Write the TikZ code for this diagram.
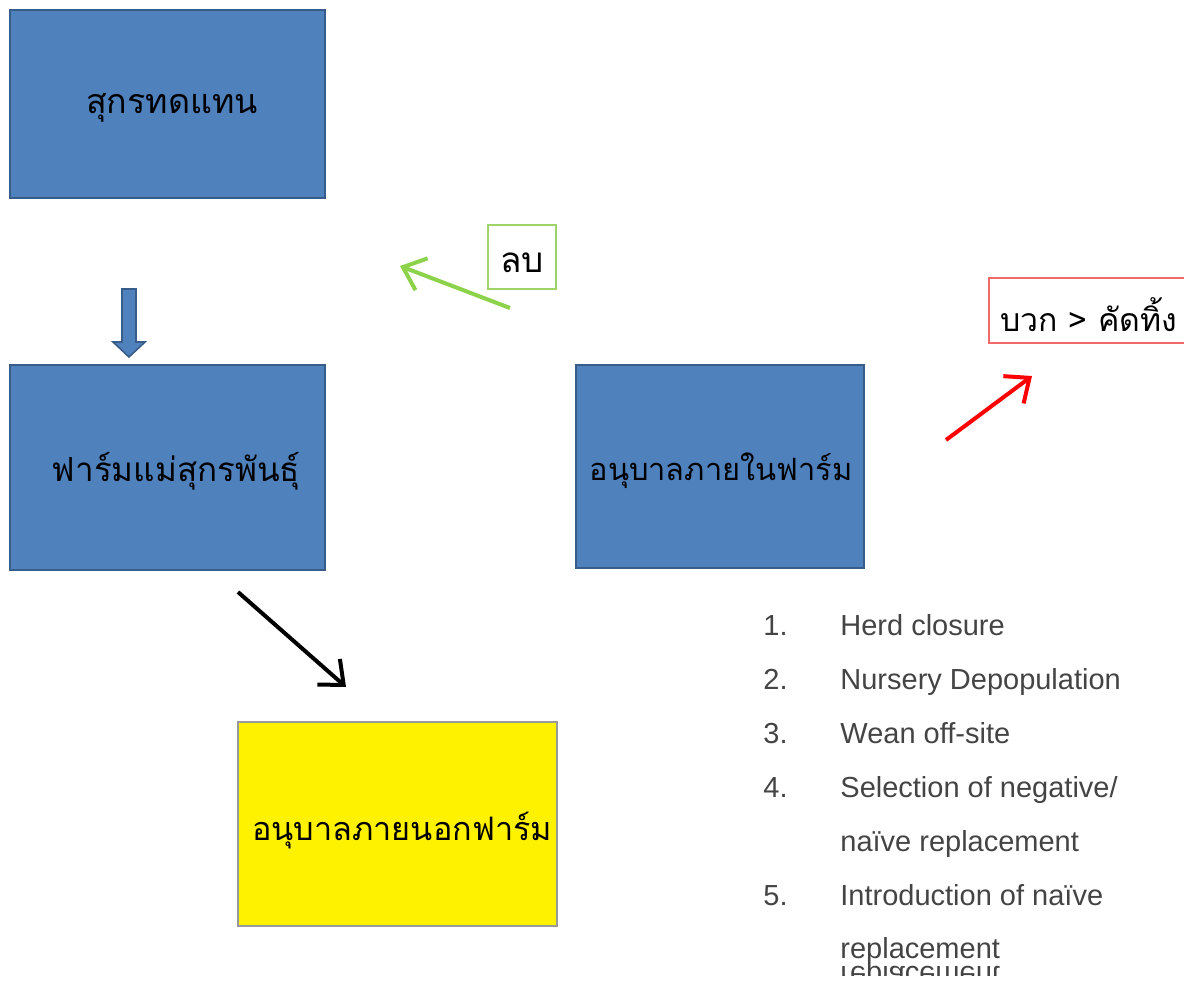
\documentclass[tikz,border=0pt]{standalone}
\usepackage{fontspec}
\usetikzlibrary{arrows.meta}
\newfontfamily\thaifont[Script=Thai]{Loma}
\newfontfamily\listfont{Liberation Sans}
\definecolor{boxblue}{HTML}{4F81BD}
\definecolor{boxedge}{HTML}{385D8A}
\definecolor{minusgreen}{HTML}{9ED36A}
\definecolor{arrgreen}{HTML}{8CD24A}
\definecolor{plusred}{HTML}{F06A6A}
\definecolor{listgray}{HTML}{444444}
\begin{document}
\begin{tikzpicture}[x=0.5pt,y=-0.5pt,
  bluebox/.style={draw=boxedge,fill=boxblue,line width=1pt,inner sep=0pt,outer sep=0pt},
  yellowbox/.style={draw=gray!80,fill=yellow,line width=0.8pt,inner sep=0pt,outer sep=0pt},
  labelbox/.style={fill=white,line width=1pt,inner sep=0pt,outer sep=0pt},
  thaitext/.style={font=\thaifont,text=black,inner sep=0pt},
  flowarrow/.style={line width=2pt,-{Straight Barb[length=10pt,width=17pt,line width=2pt]}},
  listnum/.style={font=\listfont\fontsize{14.5}{16}\selectfont,text=listgray,anchor=base west,inner sep=0pt},
  listitem/.style={font=\listfont\fontsize{14.5}{16}\selectfont,text=listgray,anchor=base west,inner sep=0pt}
]
\useasboundingbox (0,0) rectangle (1184,982);

% boxes
\node[bluebox,minimum width=157.5pt,minimum height=94pt] (repl) at (167.5,104) {};
\node[thaitext] (repltext) at (172,108) {\fontsize{17}{20}\selectfont สุกรทดแทน};
\node[bluebox,minimum width=157.5pt,minimum height=102.5pt] (sow) at (167.5,467.5) {};
\node[thaitext] (sowtext) at (176,471) {\fontsize{16.6}{20}\selectfont ฟาร์มแม่สุกรพันธุ์};
\node[bluebox,minimum width=144pt,minimum height=101.5pt] (inner) at (720,466.5) {};
\node[thaitext] (innertext) at (721,471) {\fontsize{15.4}{20}\selectfont อนุบาลภายในฟาร์ม};
\node[yellowbox,minimum width=159.5pt,minimum height=102pt] (outer) at (397.5,824) {};
\node[thaitext] (outertext) at (402,831) {\fontsize{16.2}{20}\selectfont อนุบาลภายนอกฟาร์ม};

% label boxes
\node[labelbox,draw=minusgreen,minimum width=34pt,minimum height=32pt] (minus) at (522,257) {};
\node[thaitext] (minustext) at (522,263) {\fontsize{17.5}{20}\selectfont ลบ};
\node[labelbox,draw=plusred,minimum width=103pt,minimum height=32.5pt] (plus) at (1092,310.5) {};
\node[thaitext,anchor=west] (plustext) at (1000,315) {\fontsize{16}{20}\selectfont บวก > คัดทิ้ง};

% block arrow down
\draw[draw=boxedge,fill=boxblue,line width=0.8pt]
  (122,289) -- (136,289) -- (136,342) -- (145,342) -- (129,357) -- (113,342) -- (122,342) -- cycle;

% arrows
\coordinate (gs) at (510,308);
\coordinate (ge) at (400,266);
\draw[flowarrow,draw=arrgreen] (gs) -- (ge);
\coordinate (rs) at (946,440);
\coordinate (re) at (1032,376);
\draw[flowarrow,draw=red] (rs) -- (re);
\coordinate (bs) at (238,592);
\coordinate (be) at (346,687);
\draw[flowarrow,draw=black] (bs) -- (be);

% list
\node[listnum] (n1) at (763,635) {1.};
\node[listitem] (t1) at (840,635) {Herd closure};
\node[listnum] (n2) at (763,689) {2.};
\node[listitem] (t2) at (840,689) {Nursery Depopulation};
\node[listnum] (n3) at (763,743) {3.};
\node[listitem] (t3) at (840,743) {Wean off-site};
\node[listnum] (n4) at (763,797) {4.};
\node[listitem] (t4) at (840,797) {Selection of negative/};
\node[listitem] (t4b) at (840,851) {naïve replacement};
\node[listnum] (n5) at (763,905) {5.};
\node[listitem] (t5) at (840,905) {Introduction of naïve};
\node[listitem] (t5b) at (840,958) {replacement};
\begin{scope}
  \clip (830,964) rectangle (1010,975);
  \node[listitem,yscale=-1] (t5m) at (840,966) {replacement};
\end{scope}
\end{tikzpicture}
\end{document}
